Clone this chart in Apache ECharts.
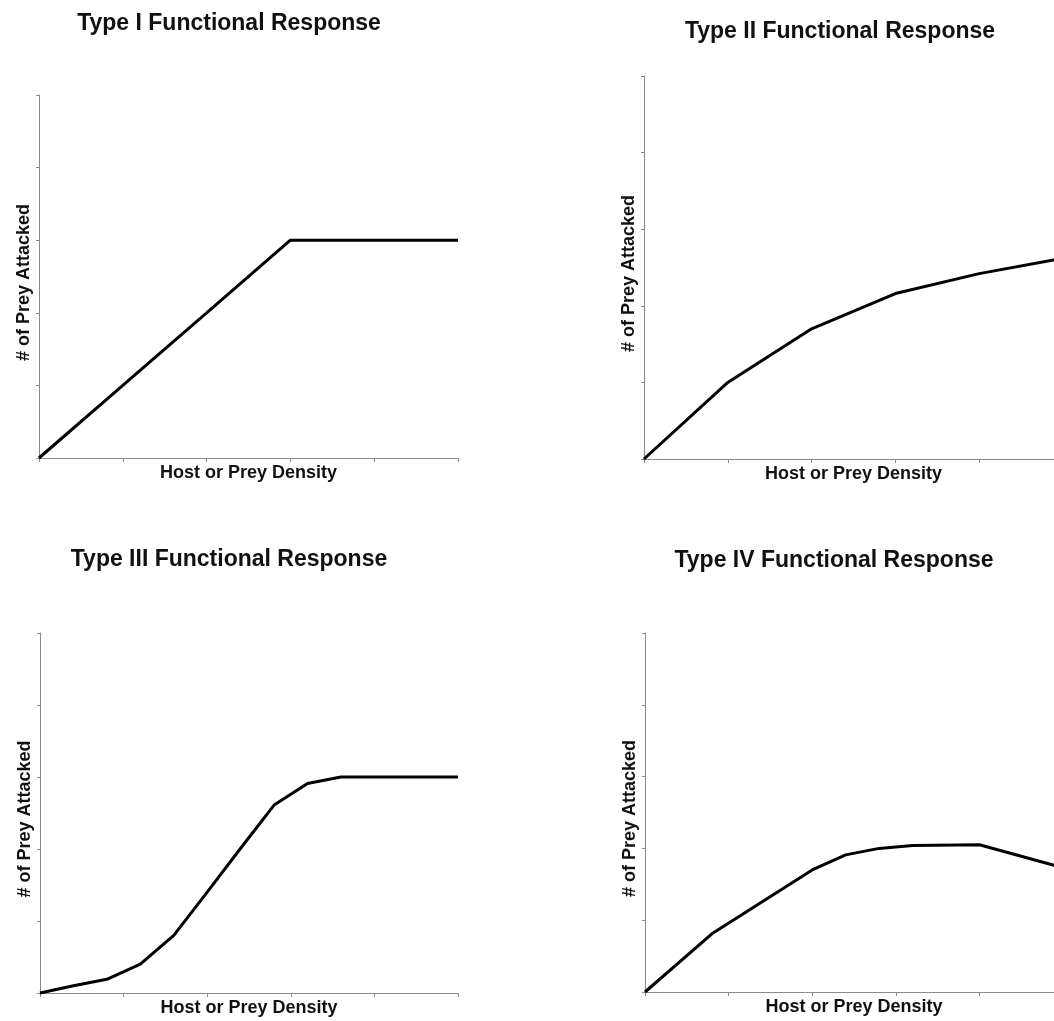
<!DOCTYPE html>
<html>
<head>
<meta charset="utf-8">
<script src="https://cdn.jsdelivr.net/npm/echarts@6/dist/echarts.min.js"></script>
<style>
html, body { margin: 0; padding: 0; overflow: hidden; background: #fff; }
#chart { width: 1070px; height: 1021px; }
</style>
</head>
<body>
<div id="chart"></div>
<script>
// Panel titles
const titles = [
  'Type I Functional Response',
  'Type II Functional Response',
  'Type III Functional Response',
  'Type IV Functional Response'
];
const xAxisName = 'Host or Prey Density';
const yAxisName = '# of Prey Attacked';

// Type I
const type1X = [0, 1, 2, 3, 4, 5];
const type1Y = [0, 1, 2, 3, 3, 3];
// Type II
const type2X = [0, 1, 2, 3, 4, 5];
const type2Y = [0, 1.0, 1.70, 2.16, 2.42, 2.62];
// Type III
const type3X = [0, 0.4, 0.8, 1.2, 1.6, 2.0, 2.4, 2.8, 3.2, 3.6, 4.0, 5];
const type3Y = [0, 0.10, 0.19, 0.40, 0.80, 1.40, 2.01, 2.61, 2.91, 3.0, 3.0, 3.0];
// Type IV
const type4X = [0, 0.8, 2.0, 2.4, 2.8, 3.2, 4.0, 5];
const type4Y = [0, 0.81, 1.70, 1.91, 2.0, 2.04, 2.05, 1.73];

const seriesX = [type1X, type2X, type3X, type4X];
const seriesY = [type1Y, type2Y, type3Y, type4Y];

// layout (pixels)
const grids = [
  { left: 39, top: 95, width: 419, height: 363 },
  { left: 644, top: 76, width: 419, height: 383 },
  { left: 40, top: 633, width: 418, height: 360 },
  { left: 645, top: 633, width: 418, height: 359 }
];
const titlePos = [
  { cx: 224, top: 7 },
  { cx: 835, top: 15 },
  { cx: 224, top: 543 },
  { cx: 829, top: 544 }
];

const FONT = '"Liberation Sans", Arial, sans-serif';
const axisColor = '#8a8a8a';

const option = {
  animation: false,
  backgroundColor: '#fff',
  title: titles.map((t, i) => ({
    text: t,
    left: titlePos[i].cx,
    top: titlePos[i].top,
    textAlign: 'center',
    textStyle: { fontFamily: FONT, fontWeight: 'bold', fontSize: 23, color: '#111' }
  })),
  grid: grids.map(g => Object.assign({ containLabel: false }, g)),
  xAxis: grids.map((g, i) => ({
    type: 'value', gridIndex: i, min: 0, max: 5, interval: 1,
    name: xAxisName, nameLocation: 'middle', nameGap: 6,
    nameTextStyle: { fontFamily: FONT, fontWeight: 'bold', fontSize: 18, color: '#111', verticalAlign: 'top' },
    axisLine: { show: true, lineStyle: { color: axisColor, width: 1 } },
    axisTick: { show: true, length: 4, lineStyle: { color: axisColor } },
    axisLabel: { show: false },
    splitLine: { show: false }
  })),
  yAxis: grids.map((g, i) => ({
    type: 'value', gridIndex: i, min: 0, max: 5, interval: 1,
    name: yAxisName, nameLocation: 'middle', nameGap: 6,
    nameTextStyle: { fontFamily: FONT, fontWeight: 'bold', fontSize: 18, color: '#111', padding: [0, 12, 0, 0] },
    axisLine: { show: true, lineStyle: { color: axisColor, width: 1 } },
    axisTick: { show: true, length: 3, lineStyle: { color: axisColor } },
    axisLabel: { show: false },
    splitLine: { show: false }
  })),
  series: seriesX.map((xs, i) => ({
    type: 'line', xAxisIndex: i, yAxisIndex: i,
    data: xs.map((x, k) => [x, seriesY[i][k]]),
    showSymbol: false, symbol: 'none',
    lineStyle: { color: '#000', width: 3, join: 'round' },
    clip: false
  }))
};

const chart = echarts.init(document.getElementById('chart'), null, { renderer: 'canvas' });
chart.setOption(option);
</script>
</body>
</html>
